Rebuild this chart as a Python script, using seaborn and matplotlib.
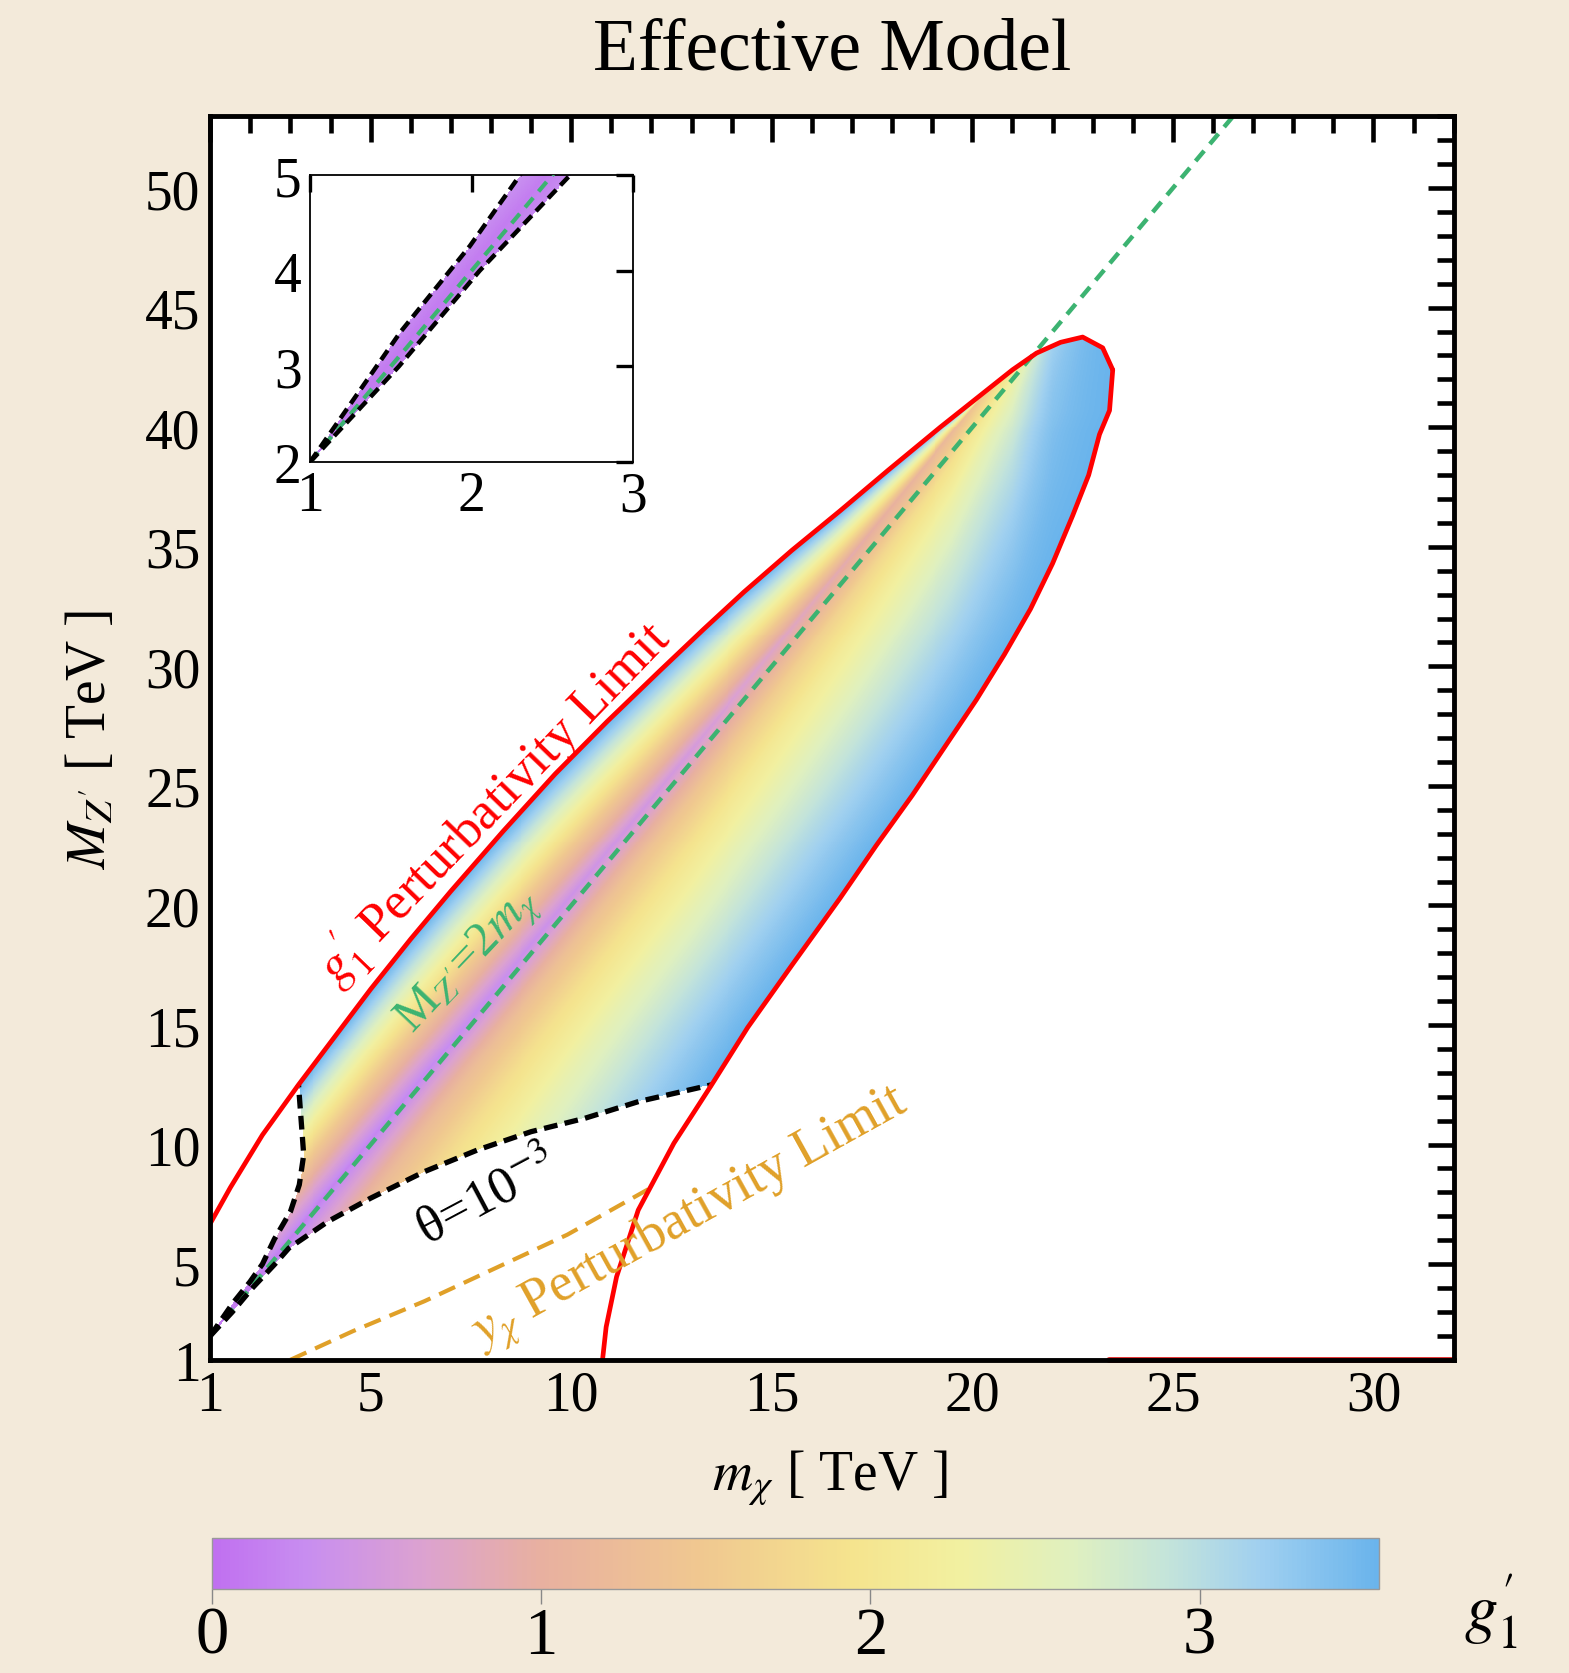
import numpy as np
import matplotlib
matplotlib.use("Agg")
import matplotlib.pyplot as plt
from matplotlib.colors import LinearSegmentedColormap, Normalize
from matplotlib.ticker import MultipleLocator, FixedLocator
import seaborn as sns

# ---- data (m_chi, M_Z' in TeV) ----
# g1' perturbativity contour, upper branch and tip
red_top_x = [1.0, 1.5, 2.3, 3.2, 4.1, 5.0, 6.0, 7.0, 8.3, 9.6, 10.9, 12.2, 13.3, 14.3, 15.5,
             16.7, 17.9, 19.2, 20.4, 21.0, 21.6, 22.2, 22.75, 23.25, 23.5]
red_top_y = [6.7, 8.2, 10.4, 12.5, 14.5, 16.5, 18.6, 20.6, 23.1, 25.5, 27.7, 29.8, 31.55, 33.1, 34.85,
             36.5, 38.2, 40.0, 41.6, 42.4, 43.1, 43.55, 43.77, 43.32, 42.4]
# g1' perturbativity contour, lower-right branch
red_right_x = [23.5, 23.42, 23.17, 22.9, 22.5, 22.0, 21.45, 20.8, 20.1, 19.3, 18.5, 17.6, 16.7,
               15.5, 14.4, 13.5, 13.0, 12.56, 11.67, 11.13, 10.87, 10.78]
red_right_y = [42.4, 40.7, 39.7, 38.0, 36.3, 34.3, 32.4, 30.5, 28.6, 26.6, 24.6, 22.5, 20.3,
               17.5, 14.9, 12.5, 11.2, 10.06, 7.26, 4.47, 2.37, 1.0]
red_floor_x = [23.4, 32.0]
red_floor_y = [1.0, 1.0]
# theta = 1e-3 contour (lower dashed) and the left dashed boundary
theta_x = [1.0, 1.55, 2.05, 2.61, 2.96, 3.94, 5.0, 6.34, 7.67, 9.0, 10.34, 11.68, 13.5]
theta_y = [2.0, 3.0, 4.0, 5.0, 5.67, 6.79, 7.76, 8.87, 9.78, 10.54, 11.1, 11.8, 12.5]
left_x = [1.0, 1.56, 1.99, 2.3, 2.6, 3.0, 3.22, 3.33, 3.28, 3.2]
left_y = [2.0, 3.36, 4.26, 5.0, 6.05, 7.2, 8.32, 9.57, 10.7, 12.5]
# y_chi perturbativity limit
yuk_x = [3.0, 4.56, 6.34, 8.12, 9.9, 12.12]
yuk_y = [1.0, 2.2, 3.45, 4.84, 6.23, 8.32]
# resonance M_Z' = 2 m_chi
res_x = [1.0, 26.5]
res_y = [2.0, 53.0]

# g1' values: minimum along the resonance ridge, and the rise towards the red contour
ridge_slope = 2.04
base_x = [1.0, 8.0, 13.0, 17.0, 19.5, 21.0, 22.0, 23.5]
base_g = [0.1, 0.3, 0.5, 0.9, 1.2, 1.8, 2.8, 3.3]
prof_t = [0.0, 0.15, 0.3, 0.5, 0.7, 0.85, 1.0]
prof_up = [0.0, 0.15, 0.3, 0.5, 0.7, 0.85, 1.0]
prof_lo = [0.0, 0.3, 0.48, 0.66, 0.81, 0.91, 1.0]
g_max = np.sqrt(4 * np.pi)

cbar_ticks = [0, 1, 2, 3]
cmap_pos = [0.0, 0.08, 0.18, 0.28, 0.42, 0.55, 0.64, 0.74, 0.82, 0.90, 1.0]
cmap_col = ["#c070f0", "#c88ef0", "#dca2d0", "#e8b0a0", "#f0c890", "#f5e48e",
            "#f2f0a0", "#dff0c0", "#c4e4da", "#a0d0f0", "#6ab4ec"]

bg = "#f3eada"


def coupling_field(xs, ys):
    X, Y = np.meshgrid(xs, ys)
    yu = np.interp(X, red_top_x, red_top_y)
    xr = np.interp(Y, red_right_y[::-1], red_right_x[::-1])
    yth = np.interp(X, theta_x, theta_y)
    xle = np.interp(Y, left_y, left_x)
    inside = ((Y <= yu) & (X <= red_top_x[-1]) & (X <= xr) & (Y >= yth)
              & ((Y >= left_y[-1]) | (X >= xle)))
    y_r = ridge_slope * X
    x_r = Y / ridge_slope
    t_up = np.clip((Y - y_r) / np.maximum(yu - y_r, 1e-6), 0, 1)
    t_lo = np.clip((X - x_r) / np.maximum(xr - x_r, 1e-6), 0, 1)
    shape = np.where(Y >= y_r, np.interp(t_up, prof_t, prof_up),
                     np.interp(t_lo, prof_t, prof_lo))
    g0 = np.interp(X, base_x, base_g)
    g = g0 + (g_max - g0) * shape
    return np.ma.masked_where(~inside, g)


def curve(ax, xs, ys, **kw):
    sns.lineplot(x=xs, y=ys, ax=ax, sort=False, estimator=None, legend=False, **kw)


sns.set_theme(style="white")
plt.rcParams["font.family"] = ["Liberation Serif", "DejaVu Serif"]
plt.rcParams["mathtext.fontset"] = "stix"
for k in ["text.color", "axes.labelcolor", "xtick.color", "ytick.color"]:
    plt.rcParams[k] = "black"

cmap = LinearSegmentedColormap.from_list("g1", list(zip(cmap_pos, cmap_col)))
norm = Normalize(vmin=0, vmax=g_max)

fig = plt.figure(figsize=(15.69, 16.74), dpi=100, facecolor=bg)
ax = fig.add_axes([0.134, 0.1871, 0.7925, 0.7428])
ax.set_facecolor("white")

G = coupling_field(np.linspace(1, 32, 1250), np.linspace(1, 53, 1250))
im = ax.imshow(G, extent=(1, 32, 1, 53), origin="lower", aspect="auto",
               cmap=cmap, norm=norm, interpolation="nearest", zorder=1)

dash_k = (0, (2.6, 1.4))
curve(ax, res_x, res_y, color="#3cb371", linewidth=3.2, linestyle=(0, (3, 2)), zorder=3)
curve(ax, theta_x, theta_y, color="black", linewidth=3.8, linestyle=dash_k, zorder=3)
curve(ax, left_x, left_y, color="black", linewidth=3.8, linestyle=dash_k, zorder=3)
curve(ax, yuk_x, yuk_y, color="#e0a028", linewidth=3.0, linestyle=(0, (4.2, 2.3)), zorder=3)
curve(ax, red_top_x, red_top_y, color="#ff0000", linewidth=3.4, zorder=4)
curve(ax, red_right_x, red_right_y, color="#ff0000", linewidth=3.4, zorder=4)
curve(ax, red_floor_x, red_floor_y, color="#dd0000", linewidth=4.0, zorder=2, clip_on=False)

ax.text(8.08, 24.3, r"$g_1^{\prime}$ Perturbativity Limit", color="#ff0000", fontsize=38,
        rotation=46, ha="center", va="center", rotation_mode="anchor", zorder=5)
ax.text(7.45, 17.7, r"M$_{Z'}$=2$m_\chi$", color="#3cb371", fontsize=35,
        rotation=46.5, ha="center", va="center", rotation_mode="anchor", zorder=5)
ax.text(7.9, 7.8, r"θ=10$^{-3}$", color="black", fontsize=38,
        rotation=28, ha="center", va="center", rotation_mode="anchor", zorder=5)
ax.text(12.95, 6.95, r"$y_\chi$ Perturbativity Limit", color="#e0a028", fontsize=39,
        rotation=29, ha="center", va="center", rotation_mode="anchor", zorder=5)

ax.set_xlim(1, 32)
ax.set_ylim(1, 53)
ax.xaxis.set_major_locator(FixedLocator([1, 5, 10, 15, 20, 25, 30]))
ax.xaxis.set_minor_locator(MultipleLocator(1))
ax.yaxis.set_major_locator(FixedLocator([1, 5, 10, 15, 20, 25, 30, 35, 40, 45, 50]))
ax.yaxis.set_minor_locator(MultipleLocator(1))
ax.tick_params(which="both", direction="in", top=True, right=True, width=3.3, color="black")
ax.tick_params(which="major", length=19, labelsize=40, pad=7)
ax.tick_params(which="minor", length=12)
for s in ax.spines.values():
    s.set_color("black")
    s.set_linewidth(3.5)
    s.set_zorder(6)

ax.set_xlabel(r"$m_\chi$ [ TeV ]", fontsize=40)
ax.xaxis.set_label_coords(0.498, -0.071)
ax.set_ylabel(r"$M_{Z'}$ [ TeV ]", fontsize=40)
ax.yaxis.set_label_coords(-0.075, 0.499)
ax.set_title("Effective Model", fontsize=53, pad=34)

# inset: zoom on the low-mass corner
axin = fig.add_axes([0.1976, 0.7234, 0.2059, 0.1714])
axin.set_facecolor("white")
Gi = coupling_field(np.linspace(1, 3, 400), np.linspace(2, 5, 400))
axin.imshow(Gi, extent=(1, 3, 2, 5), origin="lower", aspect="auto",
            cmap=cmap, norm=norm, interpolation="nearest", zorder=1)
curve(axin, res_x, res_y, color="#3cb371", linewidth=3.0, linestyle=(0, (3, 2)), zorder=3)
curve(axin, theta_x, theta_y, color="black", linewidth=3.2, linestyle=dash_k, zorder=3)
curve(axin, left_x, left_y, color="black", linewidth=3.2, linestyle=dash_k, zorder=3)
axin.set_xlim(1, 3)
axin.set_ylim(2, 5)
axin.xaxis.set_major_locator(FixedLocator([1, 2, 3]))
axin.yaxis.set_major_locator(FixedLocator([2, 3, 4, 5]))
axin.tick_params(direction="in", top=True, right=True, length=12, width=2.4,
                 labelsize=40, pad=6, color="black")
axin.set_xlabel("")
axin.set_ylabel("")
for s in axin.spines.values():
    s.set_color("black")
    s.set_linewidth(1.3)

# colour bar
cax = fig.add_axes([0.1351, 0.0502, 0.7438, 0.0305])
cb = fig.colorbar(im, cax=cax, orientation="horizontal", ticks=cbar_ticks)
cb.outline.set_edgecolor("#999999")
cb.outline.set_linewidth(1)
cax.tick_params(direction="out", length=11, width=1, color="#888888", labelsize=48, pad=1)
fig.text(0.950, 0.037, r"$g_1^{\prime}$", fontsize=48, ha="center", va="center")

fig.savefig("out.png", dpi=100, facecolor=bg)
